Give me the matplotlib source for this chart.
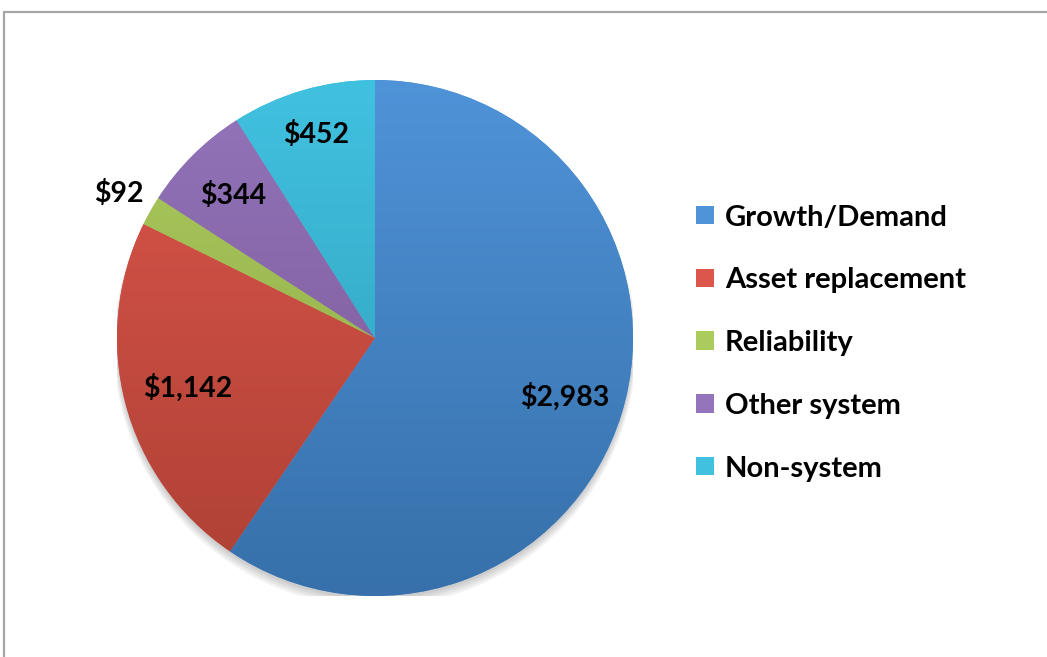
import numpy as np
import matplotlib.pyplot as plt
from matplotlib.colors import LinearSegmentedColormap
from matplotlib.patches import Rectangle, Circle

categories = ['Growth/Demand', 'Asset replacement', 'Reliability', 'Other system', 'Non-system']
values = [2983, 1142, 92, 344, 452]
labels = ['$2,983', '$1,142', '$92', '$344', '$452']

# gradient colours per slice (top, bottom)
top_cols = ['#4f93d8', '#dc564c', '#abcb5c', '#9474bb', '#41c1e0']
bot_cols = ['#3770aa', '#ad4034', '#8ca548', '#765690', '#2c9bb5']
label_r = [0.77, 0.75, 1.14, 0.78, 0.82]

plt.rcParams['font.family'] = ['Lato', 'DejaVu Sans']

fig = plt.figure(figsize=(10.47, 6.57), dpi=100)
W, H = 1047, 657

# outer chart frame
fig.add_artist(Rectangle((4 / W, -0.1), 1.2, (657 - 12) / H + 0.1, transform=fig.transFigure,
                         fill=False, edgecolor='#a6a6a6', linewidth=1.6))

cx, cy, r = 375, 338, 258
ax = fig.add_axes([(cx - r) / W, (H - cy - r) / H, 2 * r / W, 2 * r / H])

# soft shadow under the pie
for i in range(4):
    ax.add_patch(Circle((0, -0.012 - 0.006 * i), 1.0 + 0.004 * i, color='black', alpha=0.05, lw=0, zorder=0))

wedges, _ = ax.pie(values, startangle=90, counterclock=False, radius=1,
                   colors=top_cols, wedgeprops=dict(linewidth=0))

grad = np.linspace(1, 0, 256).reshape(-1, 1)
for w, c1, c2 in zip(wedges, top_cols, bot_cols):
    cmap = LinearSegmentedColormap.from_list('g', [c2, c1])
    im = ax.imshow(grad, cmap=cmap, extent=[-1, 1, -1, 1], aspect='auto', zorder=2)
    im.set_clip_path(w)

for w, lab, d in zip(wedges, labels, label_r):
    ang = np.deg2rad((w.theta1 + w.theta2) / 2)
    ax.text(d * np.cos(ang), d * np.sin(ang), lab, ha='center', va='center',
            fontsize=20.5, fontweight='bold', color='black', zorder=5, clip_on=False)

ax.set_xlim(-1, 1)
ax.set_ylim(-1, 1)
ax.set_aspect('equal')
ax.axis('off')

handles = [plt.Rectangle((0, 0), 1, 1, facecolor=c) for c in top_cols]
fig.legend(handles, categories, loc='center left', bbox_to_anchor=(670 / W, (H - 343) / H),
           frameon=False, prop=dict(size=21, weight='bold'), handlelength=0.6, handleheight=0.6,
           handletextpad=0.38, labelspacing=1.26)

fig.savefig('out.png', dpi=100)
